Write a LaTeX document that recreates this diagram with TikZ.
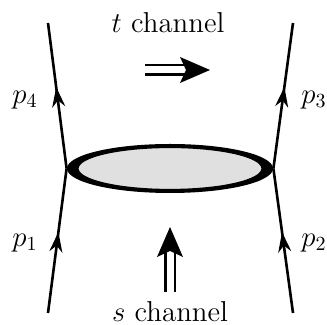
\documentclass[tikz,border=0pt]{standalone}
\usepackage{tikz}
\usetikzlibrary{shapes, arrows.meta, positioning, calc, decorations.markings}

\begin{document}
\begin{tikzpicture}[
  x=0.5pt, y=-0.5pt,
  leg/.style={line width=1.3pt, postaction={decorate},
              decoration={markings, mark=at position 0.56 with
                {\arrow{Stealth[length=10pt, width=6.5pt]}}}},
  momentum/.style={font=\Large},
  channel/.style={font=\Large, anchor=base},
  flow/.style={double, double distance=3.5pt, line width=1.4pt,
               -{Stealth[length=15pt, width=13pt, inset=3pt, line width=0pt]}}
]
\useasboundingbox (0,0) rectangle (327,325);

% blob
\node[ellipse, fill=black, inner sep=0pt, minimum width=103pt,
      minimum height=24.5pt] (blob) at (170,168.5) {};
\node[ellipse, fill=black!12, draw, line width=0.6pt, inner sep=0pt,
      minimum width=92pt, minimum height=21pt] (core) at (blob.center) {};

% external legs
\coordinate (in1) at (48,313);
\coordinate (in2) at (293,313);
\coordinate (out3) at (293,23);
\coordinate (out4) at (48,23);

\draw[leg] (in1) -- (blob.west);
\draw[leg] (blob.west) -- (out4);
\draw[leg] (in2) -- (blob.east);
\draw[leg] (blob.east) -- (out3);

\node[momentum] (p1) at (25,243) {$p_1$};
\node[momentum] (p2) at (314,243) {$p_2$};
\node[momentum] (p3) at (314,100) {$p_3$};
\node[momentum] (p4) at (25,100) {$p_4$};

% channels
\node[channel] (tch) at (168,33) {$t$ channel};
\node[channel] (sch) at (170,322) {$s$ channel};

\coordinate (ta) at (145,70);
\coordinate (tb) at (210,70);
\coordinate (sa) at (170,292);
\coordinate (sb) at (170,227);
\draw[flow] (ta) -- (tb);
\draw[flow] (sa) -- (sb);
\end{tikzpicture}
\end{document}
